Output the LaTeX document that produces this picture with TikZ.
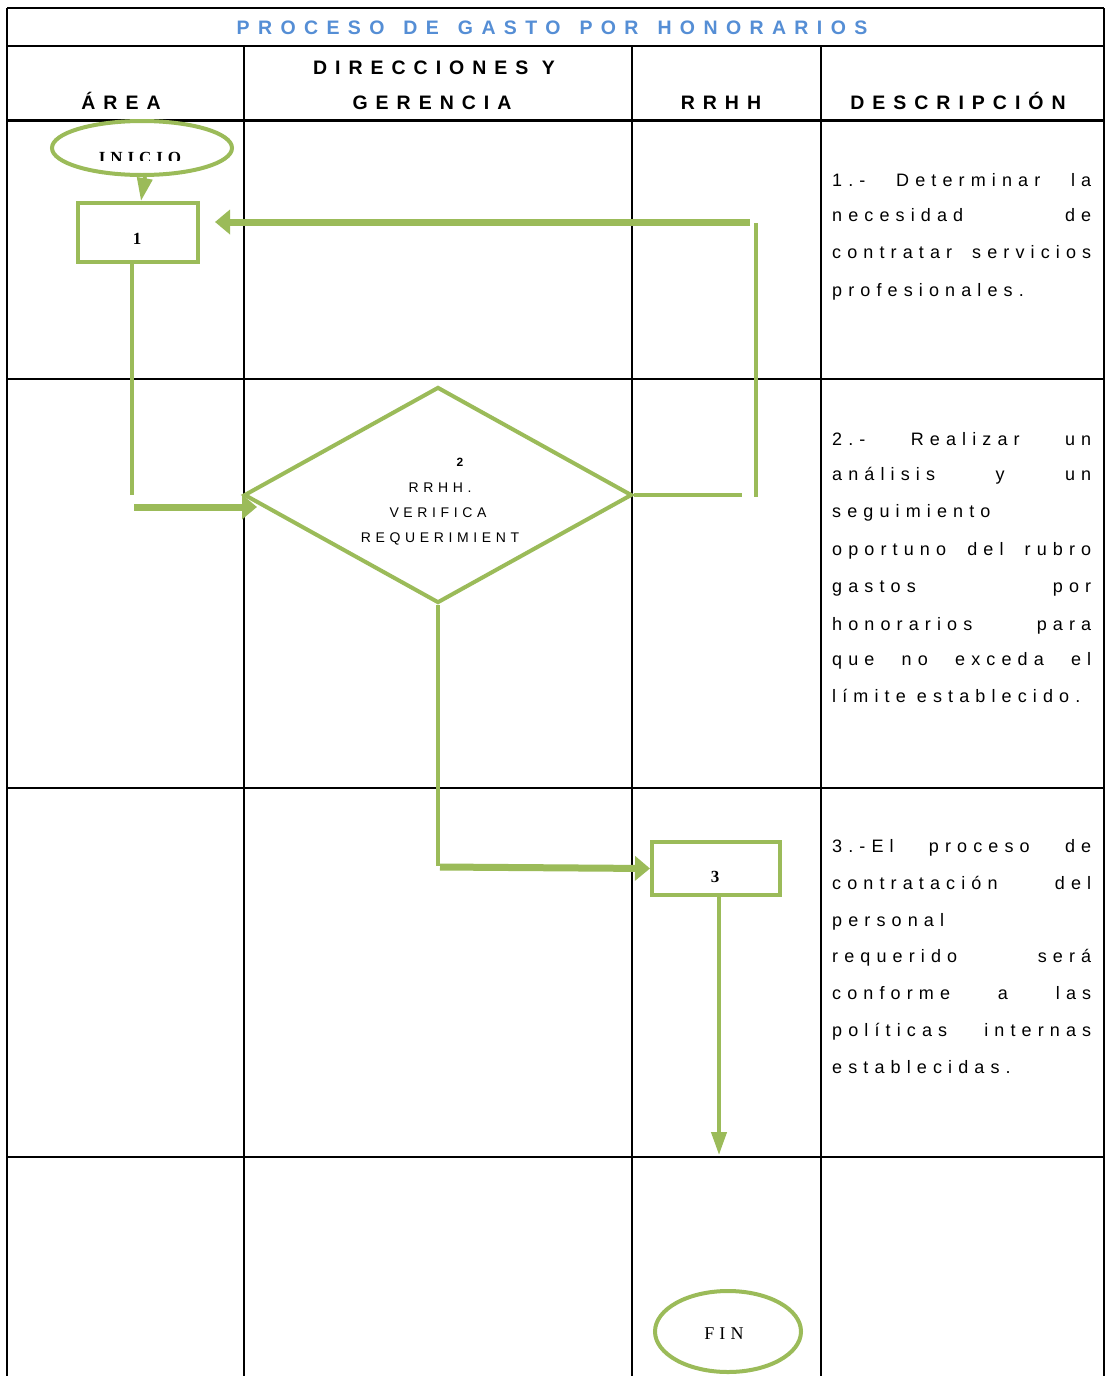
\documentclass[tikz,border=0pt]{standalone}
\usepackage{fontspec}
\setmainfont{Liberation Sans}
\usetikzlibrary{arrows.meta,shapes.geometric}
\newfontfamily\titf[LetterSpace=43]{Liberation Sans}
\newfontfamily\headf[LetterSpace=41]{Liberation Sans}
\newfontfamily\descf[LetterSpace=34]{Liberation Sans}
\newfontfamily\diaf[LetterSpace=33]{Liberation Sans}
\newfontfamily\serf[LetterSpace=29]{Liberation Serif}
\newcommand\wsp{\hspace{19pt}}
\definecolor{gr}{HTML}{9BBB59}
\definecolor{tb}{HTML}{558ED5}
\begin{document}
\begin{tikzpicture}[x=1pt,y=-1pt,
  gridl/.style={line width=2.5pt,black},
  gbox/.style={draw=gr,line width=4pt,fill=white,inner sep=0pt},
  gthin/.style={draw=gr,line width=4pt},
  gthick/.style={draw=gr,line width=7pt},
  bigtip/.style={-{Triangle[width=24pt,length=15pt]}},
  smalltip/.style={-{Triangle[width=15pt,length=23pt]}},
  txt/.style={inner sep=0pt,anchor=base},
  hdr/.style={txt,font={\headf\bfseries\fontsize{19.5pt}{22pt}\selectfont}},
  desc/.style={inner sep=0pt,anchor=base west,font={\descf\fontsize{18pt}{21pt}\selectfont}},
  dtxt/.style={txt,font={\diaf\fontsize{14pt}{16pt}\selectfont}},
  stxt/.style={txt,font={\serf\bfseries\fontsize{17pt}{20pt}\selectfont}}
]
\useasboundingbox (0,0) rectangle (1107,1376);
\fill[white] (0,0) rectangle (1107,1376);
% grid
\draw[gridl] (7,8) -- (1104,8);
\draw[gridl] (7,46) -- (1104,46);
\draw[line width=3pt] (7,120) -- (1104,120);
\draw[gridl] (7,379) -- (1104,379);
\draw[gridl] (7,788) -- (1104,788);
\draw[gridl] (7,1157) -- (1104,1157);
\draw[gridl] (7,8) -- (7,1376);
\draw[gridl] (1104,8) -- (1104,1376);
\draw[gridl] (244,46) -- (244,1376);
\draw[gridl] (632,46) -- (632,1376);
\draw[gridl] (821,46) -- (821,1376);
% title and headers
\node[txt,font={\titf\bfseries\fontsize{19.5pt}{22pt}\selectfont},text=tb] (title) at (552,34) {PROCESO\wsp DE\wsp GASTO\wsp POR\wsp HONORARIOS};
\node[hdr] (harea) at (121,109) {ÁREA};
\node[hdr] (hdir1) at (434,74.5) {DIRECCIONES Y};
\node[hdr] (hdir2) at (432,109) {GERENCIA};
\node[hdr] (hrrhh) at (721,109) {RRHH};
\node[hdr] (hdesc) at (958,109) {DESCRIPCIÓN};
% shapes
\node[gbox,ellipse,minimum width=180pt,minimum height=54pt] (inicio) at (142,148) {};
\begin{scope}
\clip (60,130) rectangle (225,160);
\node[stxt] (tinicio) at (140,163.5) {INICIO};
\end{scope}
\node[gbox,rectangle,minimum width=120pt,minimum height=59pt] (b1) at (138,232.5) {};
\node[stxt] (t1) at (137,244) {1};
\node[gbox,diamond,minimum width=388pt,minimum height=216pt] (d) at (438,495) {};
\node[txt,font={\bfseries\fontsize{12pt}{14pt}\selectfont}] (t2) at (460,466.5) {2};
\node[dtxt] (t2a) at (440,492) {RRHH.};
\node[dtxt] (t2b) at (438,517) {VERIFICA};
\node[dtxt] (t2c) at (440,542) {REQUERIMIENT};
\node[gbox,rectangle,minimum width=128pt,minimum height=53pt] (b3) at (716,868.5) {};
\node[stxt] (t3) at (715,882) {3};
\node[gbox,ellipse,minimum width=146pt,minimum height=81pt] (fin) at (728,1331.5) {};
\node[txt,font={\serf\fontsize{18pt}{20pt}\selectfont}] (tfin) at (724,1339) {FIN};
% connectors
\coordinate (c1) at (132,495);
\coordinate (c2) at (134,507);
\coordinate (c3) at (257,507);
\coordinate (c4) at (742,495);
\coordinate (c5) at (756,223);
\coordinate (c6) at (756,497);
\coordinate (c7) at (750,222);
\coordinate (c8) at (215,222);
\coordinate (c9) at (438,866);
\coordinate (c10) at (440,867);
\coordinate (c11) at (719,1155);
\draw[gthin,smalltip] ([xshift=3pt]inicio.south) -- ([xshift=3pt]b1.north);
\draw[gthin] ([xshift=-6pt]b1.south) -- (c1);
\draw[gthick,bigtip] (c2) -- (c3);
\draw[gthin] (d.east) -- (c4);
\draw[gthin] (c5) -- (c6);
\draw[gthick,bigtip] (c7) -- (c8);
\draw[gthin] (d.south) -- (c9);
\draw[gthick,bigtip] (c10) -- (b3.west);
\draw[gthin,smalltip] ([xshift=3pt]b3.south) -- (c11);
% descriptions
\node[desc] (d1a) at (832,186) {\hbox to 259pt{1.-\hfill Determinar\hfill la}};
\node[desc] (d1b) at (832,221) {\hbox to 259pt{necesidad\hfill de}};
\node[desc] (d1c) at (832,258) {\hbox to 259pt{contratar\hfill servicios}};
\node[desc] (d1d) at (832,296) {profesionales.};
\node[desc] (d2a) at (832,445) {\hbox to 259pt{2.-\hfill Realizar\hfill un}};
\node[desc] (d2b) at (832,480) {\hbox to 259pt{análisis\hfill y\hfill un}};
\node[desc] (d2c) at (832,517) {seguimiento};
\node[desc] (d2d) at (832,555) {\hbox to 259pt{oportuno\hfill del\hfill rubro}};
\node[desc] (d2e) at (832,592) {\hbox to 259pt{gastos\hfill por}};
\node[desc] (d2f) at (832,630) {\hbox to 259pt{honorarios\hfill para}};
\node[desc] (d2g) at (832,665) {\hbox to 259pt{que\hfill no\hfill exceda\hfill el}};
\node[desc] (d2h) at (832,702) {límite establecido.};
\node[desc] (d3a) at (832,852) {\hbox to 259pt{3.-El\hfill proceso\hfill de}};
\node[desc] (d3b) at (832,889) {\hbox to 259pt{contratación\hfill del}};
\node[desc] (d3c) at (832,926) {personal};
\node[desc] (d3d) at (832,962) {\hbox to 259pt{requerido\hfill será}};
\node[desc] (d3e) at (832,999) {\hbox to 259pt{conforme\hfill a\hfill las}};
\node[desc] (d3f) at (832,1036) {\hbox to 259pt{políticas\hfill internas}};
\node[desc] (d3g) at (832,1073) {establecidas.};
\end{tikzpicture}
\end{document}
